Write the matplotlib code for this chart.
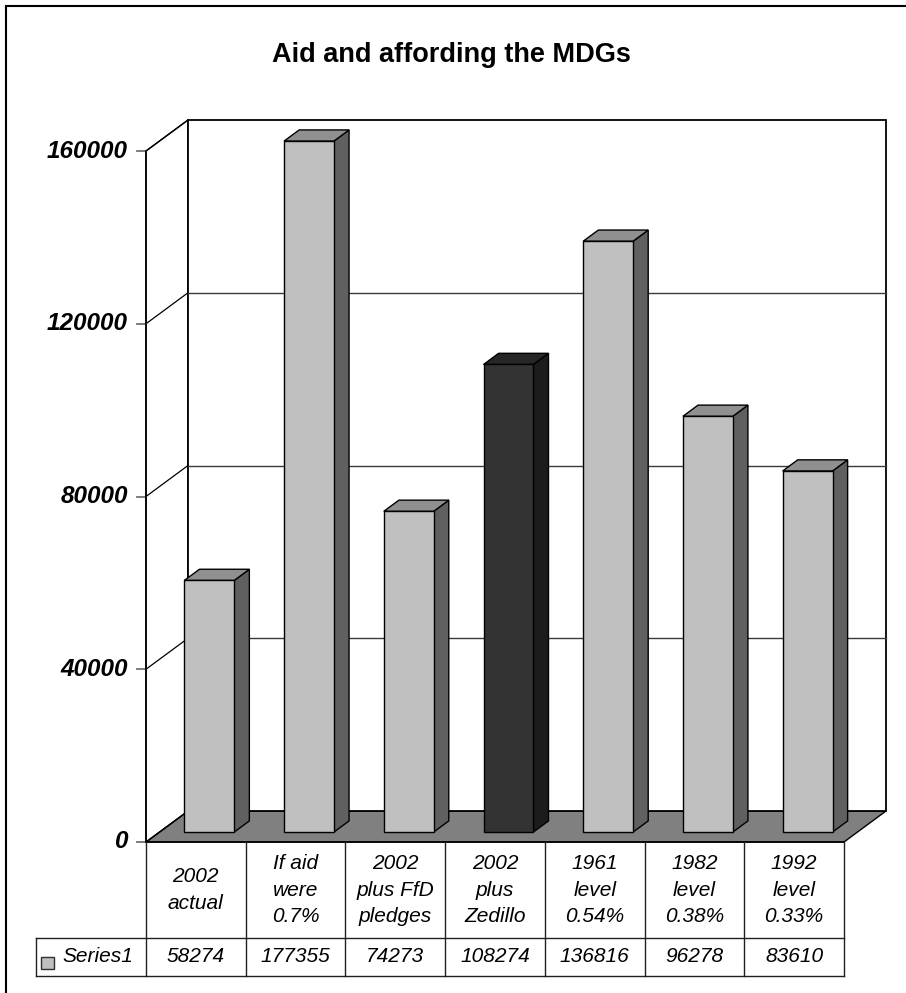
import matplotlib
matplotlib.use("Agg")
import matplotlib.pyplot as plt
from matplotlib.patches import Polygon, Rectangle

plt.rcParams['font.family'] = ['Liberation Sans', 'DejaVu Sans']

# ---- data ----
categories = ["2002\nactual", "If aid\nwere\n0.7%", "2002\nplus FfD\npledges",
              "2002\nplus\nZedillo", "1961\nlevel\n0.54%", "1982\nlevel\n0.38%",
              "1992\nlevel\n0.33%"]
values = [58274, 177355, 74273, 108274, 136816, 96278, 83610]
series_name = "Series1"
y_ticks = [0, 40000, 80000, 120000, 160000]
y_max = 160000
highlight = 3  # the Zedillo column is drawn dark

title = "Aid and affording the MDGs"

# ---- layout (figure pixels) ----
W, H = 906, 993
X0_PX, X1_PX = 146, 844        # front edge of the floor
Y0_PX, YTOP_PX = 842, 151      # value 0 and y_max on the front plane
DEPTH_DX_PX, DEPTH_DY_PX = 42, 31
ROW1_PX, ROW2_PX = 938, 976    # data-table row bottoms
LEGEND_LEFT_PX = 36

n = len(categories)
xu = (X1_PX - X0_PX) / n                    # pixels per category
ppu = (Y0_PX - YTOP_PX) / y_max             # pixels per value unit

fig = plt.figure(figsize=(W / 100, H / 100), dpi=100)
ax = fig.add_axes([0, 0, 1, 1])
ax.set_xlim(-X0_PX / xu, (W - X0_PX) / xu)
ax.set_ylim(-(H - Y0_PX) / ppu, Y0_PX / ppu)
ax.axis("off")

DX = DEPTH_DX_PX / xu
DY = DEPTH_DY_PX / ppu

def px_x(p):
    return (p - X0_PX) / xu

def px_y(p):
    return (Y0_PX - p) / ppu

LINE = "black"
GRID = "#3a3a3a"

# floor
ax.add_patch(Polygon([(0, 0), (n, 0), (n + DX, DY), (DX, DY)], closed=True,
                     facecolor="#808080", edgecolor=LINE, lw=1, zorder=1))
# left wall
ax.add_patch(Polygon([(0, 0), (DX, DY), (DX, y_max + DY), (0, y_max)], closed=True,
                     facecolor="white", edgecolor=LINE, lw=1, zorder=1))
# back wall
ax.add_patch(Polygon([(DX, DY), (n + DX, DY), (n + DX, y_max + DY), (DX, y_max + DY)],
                     closed=True, facecolor="white", edgecolor=LINE, lw=1.3, zorder=1))

# gridlines on left and back walls, ticks and labels on the front axis
for t in y_ticks:
    if 0 < t < y_max:
        ax.plot([DX, n + DX], [t + DY, t + DY], color=GRID, lw=1, zorder=2)
    ax.plot([0, DX], [t, t + DY], color=LINE, lw=0.9, zorder=2)
    ax.plot([-9 / xu, 0], [t, t], color="#707070", lw=1.3, zorder=2)
    ax.text(-18 / xu, t, f"{t}", ha="right", va="center", fontsize=17.5,
            fontweight="bold", fontstyle="italic", zorder=5)
ax.plot([0, 0], [0, y_max], color=LINE, lw=1.2, zorder=2)

# 3D columns
f1, f2 = 0.32, 0.68
half_w = 0.25
for i, v in enumerate(values):
    h = min(v, y_max)
    if i == highlight:
        c_front, c_side, c_top = "#333333", "#1c1c1c", "#262626"
    else:
        c_front, c_side, c_top = "#c0c0c0", "#606060", "#909090"
    cx = i + 0.5
    xl = cx - half_w + f1 * DX
    xr = cx + half_w + f1 * DX
    yb = f1 * DY
    yt = yb + h
    ddx = (f2 - f1) * DX
    ddy = (f2 - f1) * DY
    ax.add_patch(Polygon([(xr, yb), (xr + ddx, yb + ddy), (xr + ddx, yt + ddy), (xr, yt)],
                         closed=True, facecolor=c_side, edgecolor=LINE, lw=1, zorder=3))
    ax.add_patch(Polygon([(xl, yt), (xr, yt), (xr + ddx, yt + ddy), (xl + ddx, yt + ddy)],
                         closed=True, facecolor=c_top, edgecolor=LINE, lw=1, zorder=3))
    ax.add_patch(Polygon([(xl, yb), (xr, yb), (xr, yt), (xl, yt)],
                         closed=True, facecolor=c_front, edgecolor=LINE, lw=1, zorder=4))

# data table
r1 = px_y(ROW1_PX)
r2 = px_y(ROW2_PX)
lx = px_x(LEGEND_LEFT_PX)
TL = "#202020"
ax.plot([0, n], [0, 0], color=LINE, lw=1.2, zorder=5)
ax.plot([lx, n], [r1, r1], color=TL, lw=1, zorder=5)
ax.plot([lx, n], [r2, r2], color=TL, lw=1, zorder=5)
ax.plot([lx, lx], [r1, r2], color=TL, lw=1, zorder=5)
for k in range(n + 1):
    ax.plot([k, k], [0, r2], color=TL, lw=1, zorder=5)

for i, (cat, v) in enumerate(zip(categories, values)):
    ax.text(i + 0.5, r1 / 2, cat, ha="center", va="center", fontsize=15,
            fontstyle="italic", linespacing=1.5, zorder=6)
    ax.text(i + 0.5, (r1 + r2) / 2, f"{v}", ha="center", va="center",
            fontsize=15, fontstyle="italic", zorder=6)

# legend key inside the table
kx0, kx1 = px_x(41), px_x(54)
ky0, ky1 = px_y(969), px_y(957)
ax.add_patch(Rectangle((kx0, ky0), kx1 - kx0, ky1 - ky0, facecolor="#c0c0c0",
                       edgecolor="#303030", lw=1, zorder=6))
ax.text(px_x(62), (r1 + r2) / 2, series_name, ha="left", va="center",
        fontsize=15, fontstyle="italic", zorder=6)

# title and outer frame
fig.text(451 / W, 1 - 55 / H, title, ha="center", va="center", fontsize=19.5,
         fontweight="bold")
fig.patches.append(Rectangle((6 / W, -0.02), 1.05, 1 - 6 / H + 0.02,
                             transform=fig.transFigure, fill=False,
                             edgecolor="black", lw=1.5, figure=fig))

fig.savefig("out.png", dpi=100)
